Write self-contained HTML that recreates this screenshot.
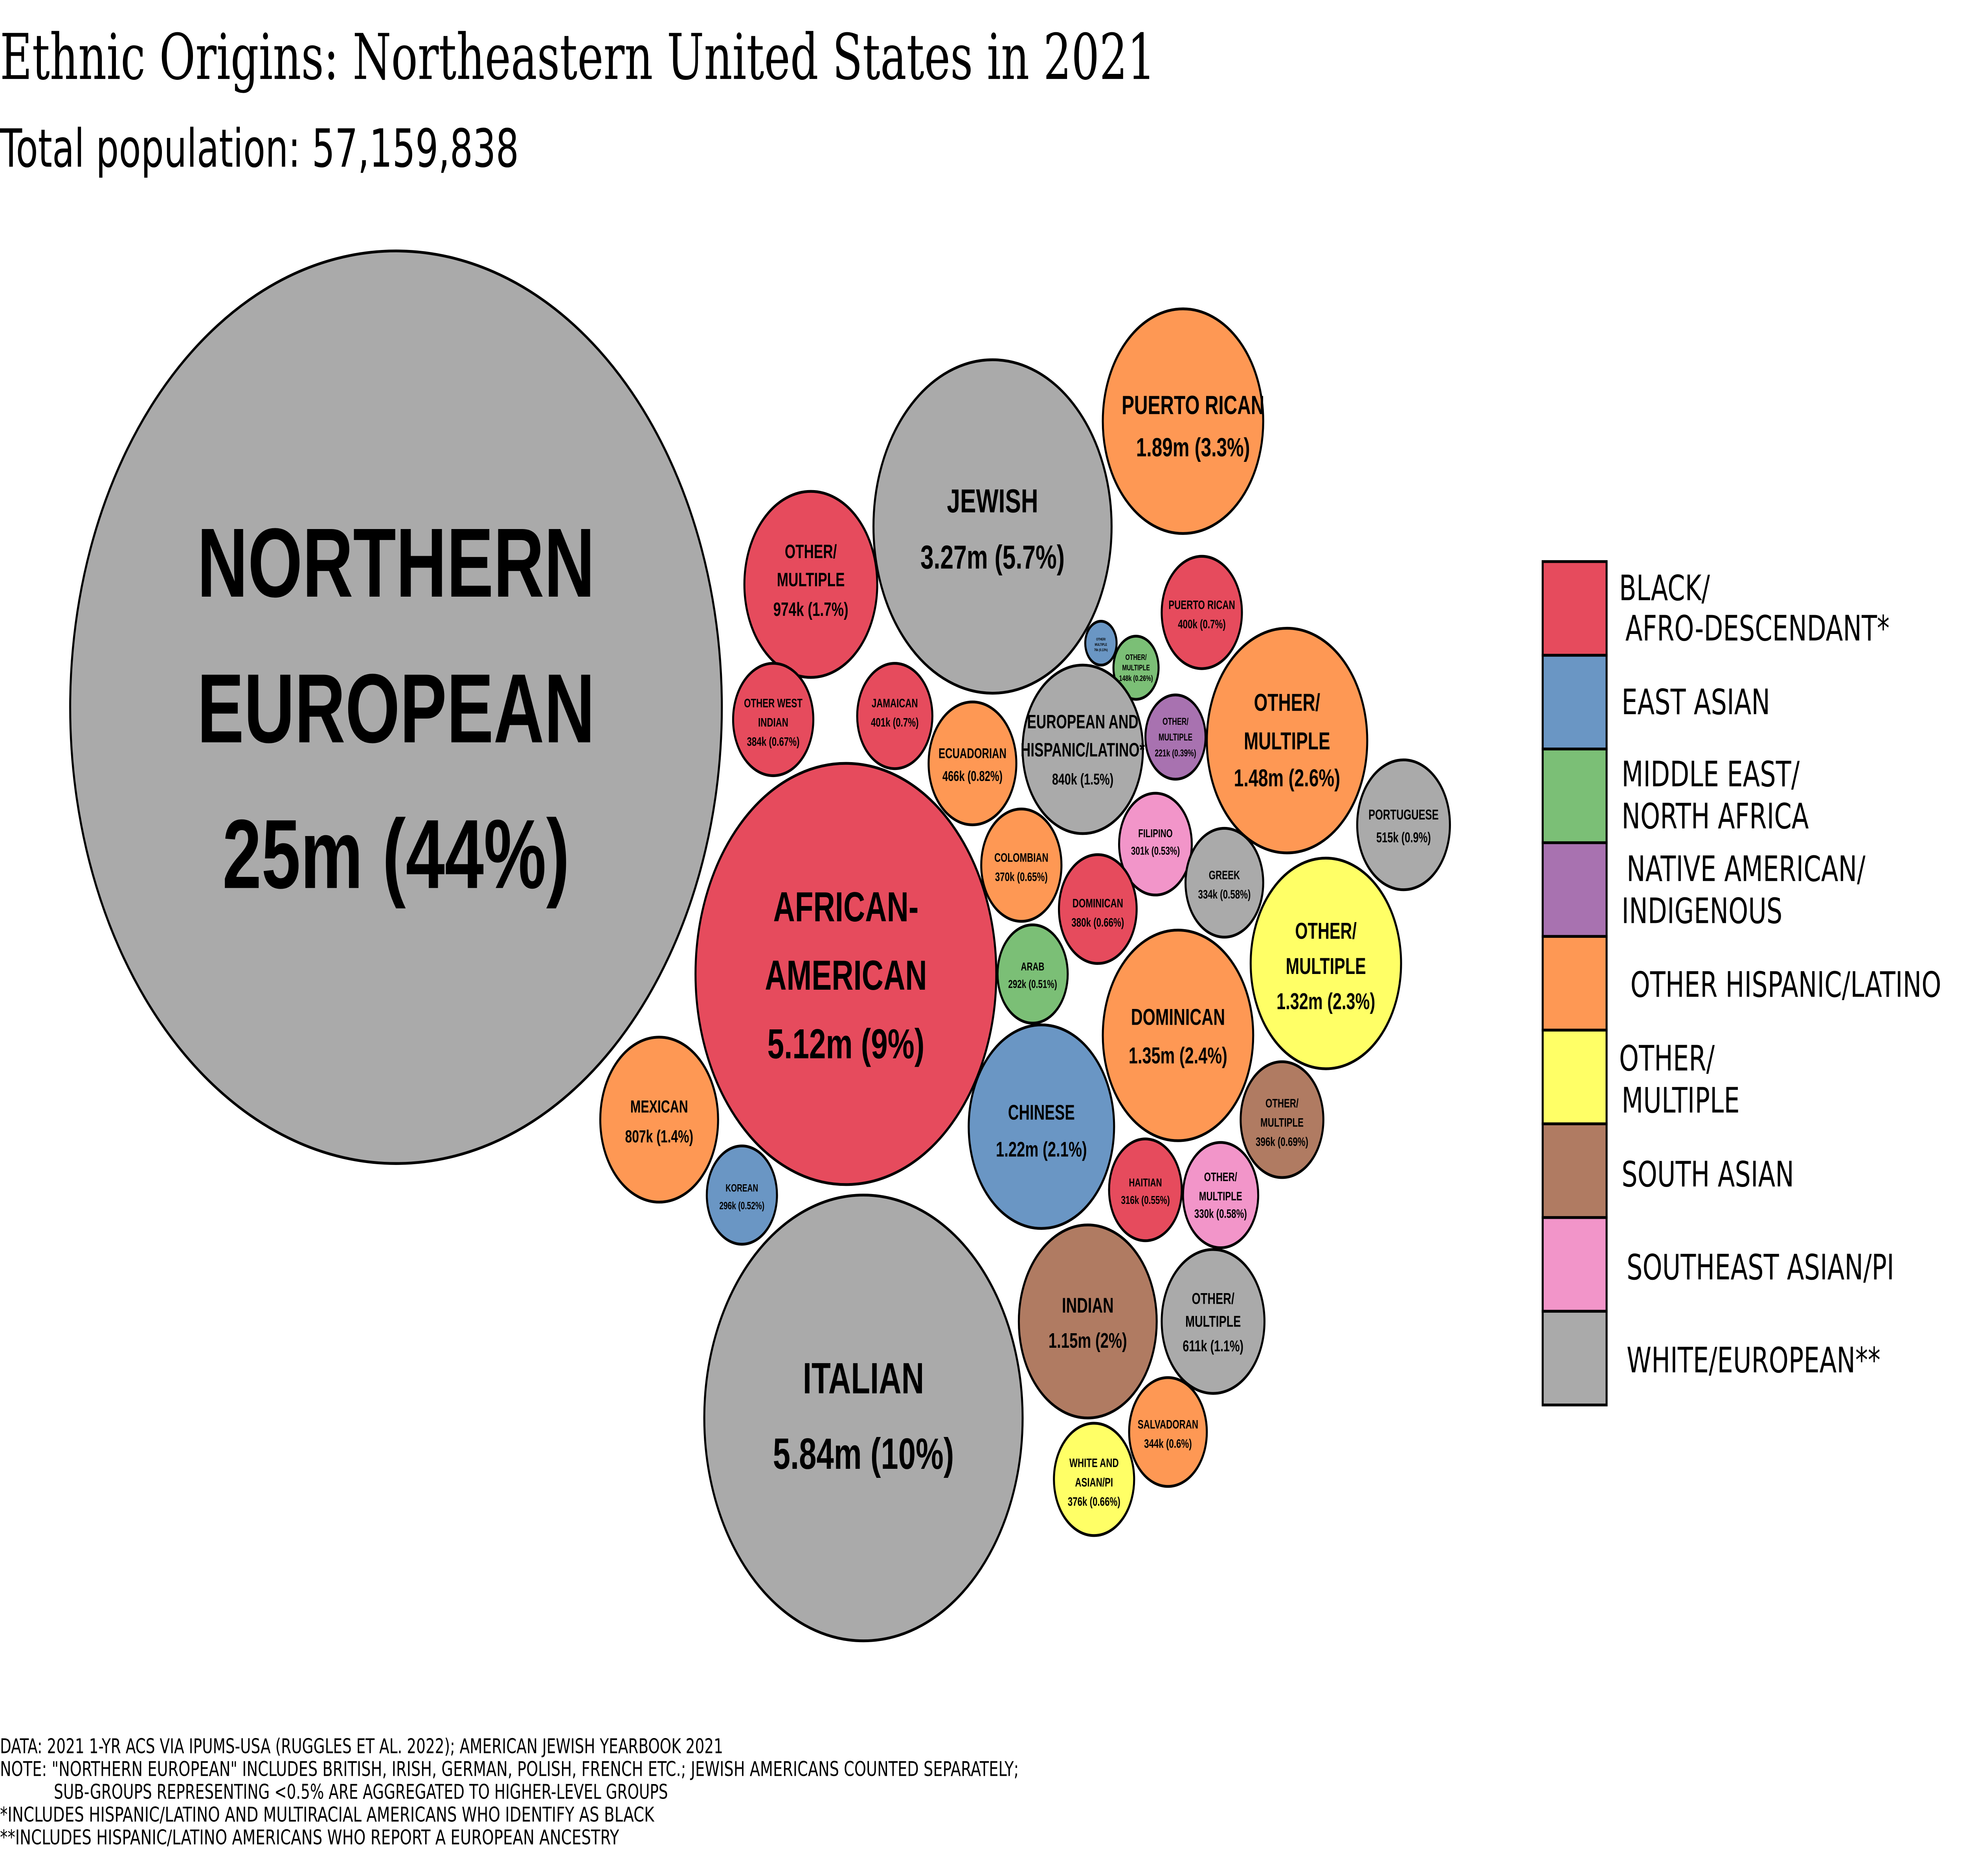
<!DOCTYPE html>
<html><head><meta charset="utf-8"><style>
html,body{margin:0;padding:0;background:#fff;width:100%;height:100%;overflow:hidden}
svg{display:block;width:100vw;height:100vh}
.l{font-family:"Liberation Sans",sans-serif;font-weight:bold;text-anchor:middle;fill:#000}
.lg{font-family:"DejaVu Sans","Liberation Sans",sans-serif;font-size:20px;fill:#000}
.ft{font-family:"DejaVu Sans Condensed","Liberation Sans Narrow","Liberation Sans",sans-serif;font-size:11.5px;fill:#000}
circle{stroke:#000;stroke-width:1.6}
</style></head><body>
<svg viewBox="0 0 1568 1069" preserveAspectRatio="none" xmlns="http://www.w3.org/2000/svg">
<rect width="1568" height="1069" fill="#fff"/>
<text x="0" y="45" style="font-family:'DejaVu Serif','Liberation Serif',serif;font-size:36px" textLength="922" lengthAdjust="spacingAndGlyphs">Ethnic Origins: Northeastern United States in 2021</text>
<text x="0" y="95" style="font-family:'DejaVu Sans','Liberation Sans',sans-serif;font-size:30px" textLength="414" lengthAdjust="spacingAndGlyphs">Total population: 57,159,838</text>

<circle cx="316" cy="403" r="260" fill="#AAAAAA"/>
<text class="l" x="316" y="340" font-size="56">NORTHERN</text>
<text class="l" x="316" y="423" font-size="56">EUROPEAN</text>
<text class="l" x="316" y="506" font-size="56">25m (44%)</text>

<circle cx="792" cy="300" r="95" fill="#AAAAAA"/>
<text class="l" x="792" y="292" font-size="19">JEWISH</text>
<text class="l" x="792" y="324" font-size="19">3.27m (5.7%)</text>

<circle cx="944" cy="240" r="64" fill="#FE9854"/>
<text class="l" x="952" y="236" font-size="15">PUERTO RICAN</text>
<text class="l" x="952" y="260" font-size="15">1.89m (3.3%)</text>

<circle cx="647" cy="333" r="53" fill="#E64B5D"/>
<text class="l" x="647" y="318" font-size="11">OTHER/</text>
<text class="l" x="647" y="334" font-size="11">MULTIPLE</text>
<text class="l" x="647" y="351" font-size="11">974k (1.7%)</text>

<circle cx="959" cy="349" r="32" fill="#E64B5D"/>
<text class="l" x="959" y="347" font-size="7">PUERTO RICAN</text>
<text class="l" x="959" y="358" font-size="7">400k (0.7%)</text>

<circle cx="878.5" cy="366.5" r="12.5" fill="#6A96C4"/>
<text class="l" x="878.5" y="365" font-size="2">OTHER/</text>
<text class="l" x="878.5" y="368" font-size="2">MULTIPLE</text>
<text class="l" x="878.5" y="371" font-size="2">76k (0.13%)</text>

<circle cx="906.5" cy="380.5" r="18" fill="#7BBF76"/>
<text class="l" x="906.5" y="376" font-size="4.5">OTHER/</text>
<text class="l" x="906.5" y="382" font-size="4.5">MULTIPLE</text>
<text class="l" x="906.5" y="388" font-size="4.5">148k (0.26%)</text>

<circle cx="938" cy="420" r="24" fill="#A872B0"/>
<text class="l" x="938" y="413" font-size="5.5">OTHER/</text>
<text class="l" x="938" y="422" font-size="5.5">MULTIPLE</text>
<text class="l" x="938" y="431" font-size="5.5">221k (0.39%)</text>

<circle cx="1027" cy="422" r="64" fill="#FE9854"/>
<text class="l" x="1027" y="405" font-size="14">OTHER/</text>
<text class="l" x="1027" y="427" font-size="14">MULTIPLE</text>
<text class="l" x="1027" y="448" font-size="14">1.48m (2.6%)</text>

<circle cx="617" cy="410" r="32" fill="#E64B5D"/>
<text class="l" x="617" y="403" font-size="7">OTHER WEST</text>
<text class="l" x="617" y="414" font-size="7">INDIAN</text>
<text class="l" x="617" y="425" font-size="7">384k (0.67%)</text>

<circle cx="714" cy="408" r="30" fill="#E64B5D"/>
<text class="l" x="714" y="403" font-size="7">JAMAICAN</text>
<text class="l" x="714" y="414" font-size="7">401k (0.7%)</text>

<circle cx="776" cy="435" r="35" fill="#FE9854"/>
<text class="l" x="776" y="432" font-size="8">ECUADORIAN</text>
<text class="l" x="776" y="445" font-size="8">466k (0.82%)</text>

<circle cx="864" cy="427" r="48" fill="#AAAAAA"/>
<text class="l" x="864" y="415" font-size="11">EUROPEAN AND</text>
<text class="l" x="864" y="431" font-size="11">HISPANIC/LATINO*</text>
<text class="l" x="864" y="447" font-size="9">840k (1.5%)</text>

<circle cx="922" cy="481" r="29" fill="#F295C9"/>
<text class="l" x="922" y="477" font-size="6.5">FILIPINO</text>
<text class="l" x="922" y="487" font-size="6.5">301k (0.53%)</text>

<circle cx="1120" cy="470" r="37" fill="#AAAAAA"/>
<text class="l" x="1120" y="467" font-size="8">PORTUGUESE</text>
<text class="l" x="1120" y="480" font-size="8">515k (0.9%)</text>

<circle cx="977" cy="503" r="31" fill="#AAAAAA"/>
<text class="l" x="977" y="501" font-size="7">GREEK</text>
<text class="l" x="977" y="512" font-size="7">334k (0.58%)</text>

<circle cx="815" cy="493" r="32" fill="#FE9854"/>
<text class="l" x="815" y="491" font-size="7">COLOMBIAN</text>
<text class="l" x="815" y="502" font-size="7">370k (0.65%)</text>

<circle cx="876" cy="518" r="31" fill="#E64B5D"/>
<text class="l" x="876" y="517" font-size="7">DOMINICAN</text>
<text class="l" x="876" y="528" font-size="7">380k (0.66%)</text>

<circle cx="675" cy="555" r="120" fill="#E64B5D"/>
<text class="l" x="675" y="525" font-size="24">AFRICAN-</text>
<text class="l" x="675" y="564" font-size="24">AMERICAN</text>
<text class="l" x="675" y="603" font-size="24">5.12m (9%)</text>

<circle cx="1058" cy="549" r="60" fill="#FFFF66"/>
<text class="l" x="1058" y="535" font-size="13">OTHER/</text>
<text class="l" x="1058" y="555" font-size="13">MULTIPLE</text>
<text class="l" x="1058" y="575" font-size="13">1.32m (2.3%)</text>

<circle cx="824" cy="555" r="28" fill="#7BBF76"/>
<text class="l" x="824" y="553" font-size="6.5">ARAB</text>
<text class="l" x="824" y="563" font-size="6.5">292k (0.51%)</text>

<circle cx="940" cy="590" r="60" fill="#FE9854"/>
<text class="l" x="940" y="584" font-size="13">DOMINICAN</text>
<text class="l" x="940" y="606" font-size="13">1.35m (2.4%)</text>

<circle cx="526" cy="638" r="47" fill="#FE9854"/>
<text class="l" x="526" y="634" font-size="10">MEXICAN</text>
<text class="l" x="526" y="651" font-size="10">807k (1.4%)</text>

<circle cx="831" cy="642" r="58" fill="#6A96C4"/>
<text class="l" x="831" y="638" font-size="12">CHINESE</text>
<text class="l" x="831" y="659" font-size="12">1.22m (2.1%)</text>

<circle cx="1023" cy="638" r="33" fill="#B07B62"/>
<text class="l" x="1023" y="631" font-size="7">OTHER/</text>
<text class="l" x="1023" y="642" font-size="7">MULTIPLE</text>
<text class="l" x="1023" y="653" font-size="7">396k (0.69%)</text>

<circle cx="592" cy="681" r="28" fill="#6A96C4"/>
<text class="l" x="592" y="679" font-size="6">KOREAN</text>
<text class="l" x="592" y="689" font-size="6">296k (0.52%)</text>

<circle cx="914" cy="678" r="29" fill="#E64B5D"/>
<text class="l" x="914" y="676" font-size="6.5">HAITIAN</text>
<text class="l" x="914" y="686" font-size="6.5">316k (0.55%)</text>

<circle cx="974" cy="681" r="30" fill="#F295C9"/>
<text class="l" x="974" y="673" font-size="7">OTHER/</text>
<text class="l" x="974" y="684" font-size="7">MULTIPLE</text>
<text class="l" x="974" y="694" font-size="7">330k (0.58%)</text>

<circle cx="868" cy="753" r="55" fill="#B07B62"/>
<text class="l" x="868" y="748" font-size="12">INDIAN</text>
<text class="l" x="868" y="768" font-size="12">1.15m (2%)</text>

<circle cx="968" cy="753" r="41" fill="#AAAAAA"/>
<text class="l" x="968" y="743" font-size="9">OTHER/</text>
<text class="l" x="968" y="756" font-size="9">MULTIPLE</text>
<text class="l" x="968" y="770" font-size="9">611k (1.1%)</text>

<circle cx="689" cy="808" r="127" fill="#AAAAAA"/>
<text class="l" x="689" y="794" font-size="25">ITALIAN</text>
<text class="l" x="689" y="837" font-size="25">5.84m (10%)</text>

<circle cx="932" cy="816" r="31" fill="#FE9854"/>
<text class="l" x="932" y="814" font-size="7">SALVADORAN</text>
<text class="l" x="932" y="825" font-size="7">344k (0.6%)</text>

<circle cx="873" cy="843" r="32" fill="#FFFF66"/>
<text class="l" x="873" y="836" font-size="7">WHITE AND</text>
<text class="l" x="873" y="847" font-size="7">ASIAN/PI</text>
<text class="l" x="873" y="858" font-size="7">376k (0.66%)</text>

<g stroke="#000" stroke-width="1.6">
<rect x="1231" y="320" width="51" height="53.4" fill="#E64B5D"/>
<rect x="1231" y="373.4" width="51" height="53.4" fill="#6A96C4"/>
<rect x="1231" y="426.8" width="51" height="53.4" fill="#7BBF76"/>
<rect x="1231" y="480.2" width="51" height="53.4" fill="#A872B0"/>
<rect x="1231" y="533.6" width="51" height="53.4" fill="#FE9854"/>
<rect x="1231" y="587" width="51" height="53.4" fill="#FFFF66"/>
<rect x="1231" y="640.4" width="51" height="53.4" fill="#B07B62"/>
<rect x="1231" y="693.8" width="51" height="53.4" fill="#F295C9"/>
<rect x="1231" y="747.2" width="51" height="53.4" fill="#AAAAAA"/>
</g>
<text class="lg" x="1292" y="342">BLACK/</text>
<text class="lg" x="1297" y="365">AFRO-DESCENDANT*</text>
<text class="lg" x="1294" y="407">EAST ASIAN</text>
<text class="lg" x="1294" y="448">MIDDLE EAST/</text>
<text class="lg" x="1294" y="472">NORTH AFRICA</text>
<text class="lg" x="1298" y="502">NATIVE AMERICAN/</text>
<text class="lg" x="1294" y="526">INDIGENOUS</text>
<text class="lg" x="1301" y="568">OTHER HISPANIC/LATINO</text>
<text class="lg" x="1292" y="610">OTHER/</text>
<text class="lg" x="1294" y="634">MULTIPLE</text>
<text class="lg" x="1294" y="676">SOUTH ASIAN</text>
<text class="lg" x="1298" y="729">SOUTHEAST ASIAN/PI</text>
<text class="lg" x="1298" y="782">WHITE/EUROPEAN**</text>

<text class="ft" x="0" y="999" textLength="577" lengthAdjust="spacingAndGlyphs">DATA: 2021 1-YR ACS VIA IPUMS-USA (RUGGLES ET AL. 2022); AMERICAN JEWISH YEARBOOK 2021</text>
<text class="ft" x="0" y="1012" textLength="813" lengthAdjust="spacingAndGlyphs">NOTE: "NORTHERN EUROPEAN" INCLUDES BRITISH, IRISH, GERMAN, POLISH, FRENCH ETC.; JEWISH AMERICANS COUNTED SEPARATELY;</text>
<text class="ft" x="43" y="1025" textLength="490" lengthAdjust="spacingAndGlyphs">SUB-GROUPS REPRESENTING &lt;0.5% ARE AGGREGATED TO HIGHER-LEVEL GROUPS</text>
<text class="ft" x="0" y="1038" textLength="522" lengthAdjust="spacingAndGlyphs">*INCLUDES HISPANIC/LATINO AND MULTIRACIAL AMERICANS WHO IDENTIFY AS BLACK</text>
<text class="ft" x="0" y="1051" textLength="494" lengthAdjust="spacingAndGlyphs">**INCLUDES HISPANIC/LATINO AMERICANS WHO REPORT A EUROPEAN ANCESTRY</text>
</svg>
</body></html>
